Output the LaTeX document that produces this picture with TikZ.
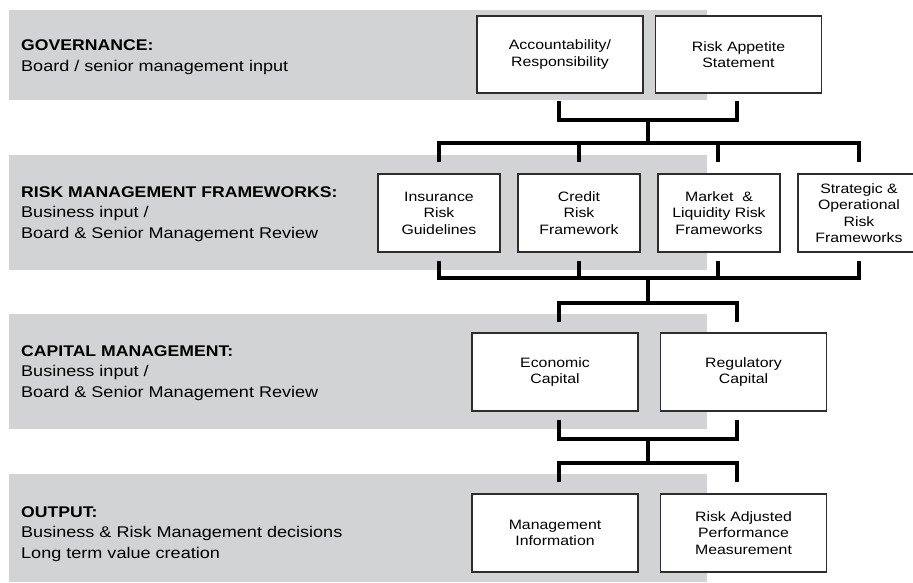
\documentclass[tikz,border=0pt]{standalone}
\usepackage{fontspec}
\setmainfont[FakeStretch=1.165, BoldFeatures={FakeStretch=1.137}]{Liberation Sans}
\usetikzlibrary{calc}
\definecolor{bandgray}{RGB}{209,211,212}
\definecolor{boxline}{RGB}{45,45,45}
\begin{document}
\begin{tikzpicture}[x=1pt,y=-1pt,
  band/.style={fill=bandgray, draw=none},
  box/.style={draw=boxline, line width=1.2pt, fill=white, align=center,
    font=\fontsize{13.6}{16.5}\selectfont, inner sep=0pt},
  widebox/.style={box, minimum width=166pt, minimum height=77pt},
  narrowbox/.style={box, minimum width=122pt, minimum height=78pt},
  link/.style={line width=3.5pt, line join=miter, line cap=butt},
  sectiontext/.style={anchor=west, align=left, inner sep=0pt,
    font=\fontsize{15.5}{20.7}\selectfont}]

\clip (0,0) rectangle (913,582);

% grey section bands
\fill[band] (9,10) rectangle (707,100);
\fill[band] (9,155) rectangle (707,270);
\fill[band] (9,314) rectangle (707,429);
\fill[band] (9,474) rectangle (707,582);

% section captions
\node[sectiontext] (govtxt) at (21,57)
  {\textbf{GOVERNANCE:}\\Board / senior management input};
\node[sectiontext] (rmftxt) at (21,214)
  {\textbf{RISK MANAGEMENT FRAMEWORKS:}\\Business input /\\Board \& Senior Management Review};
\node[sectiontext] (captxt) at (21,373)
  {\textbf{CAPITAL MANAGEMENT:}\\Business input /\\Board \& Senior Management Review};
\node[sectiontext] (outtxt) at (21,534)
  {\textbf{OUTPUT:}\\Business \& Risk Management decisions\\Long term value creation};

% governance boxes
\node[widebox] (acc) at (560,54.5) {Accountability/\\Responsibility};
\node[widebox] (ras) at (738.5,54.5) {Risk Appetite\\Statement};

% framework boxes
\node[narrowbox] (ins) at (439,213) {Insurance\\Risk\\Guidelines};
\node[narrowbox] (cre) at (579,213) {Credit\\Risk\\Framework};
\node[narrowbox] (mkt) at (719,213) {Market\ \ \&\\Liquidity Risk\\Frameworks};
\node[narrowbox] (str) at (859,213) {Strategic \&\\Operational\\Risk\\Frameworks};

% capital boxes
\node[widebox, minimum height=78pt] (eco) at (555,372) {Economic\\Capital};
\node[widebox, minimum height=78pt] (reg) at (743.5,372) {Regulatory\\Capital};

% output boxes
\node[widebox, minimum height=78pt] (mgi) at (555,533) {Management\\Information};
\node[widebox, minimum height=78pt] (rap) at (743.5,533) {Risk Adjusted\\Performance\\Measurement};

% tap points just clear of the boxes
\coordinate (accB) at ($(acc.south)+(-1,7)$);
\coordinate (rasB) at ($(ras.south)+(-1.5,7)$);
\coordinate (insT) at ($(ins.north)+(0,-11)$);
\coordinate (creT) at ($(cre.north)+(0,-11)$);
\coordinate (mktT) at ($(mkt.north)+(-1,-11)$);
\coordinate (strT) at ($(str.north)+(0,-11)$);
\coordinate (insB) at ($(ins.south)+(0,8)$);
\coordinate (creB) at ($(cre.south)+(0,8)$);
\coordinate (mktB) at ($(mkt.south)+(-1,8)$);
\coordinate (strB) at ($(str.south)+(0,8)$);
\coordinate (ecoT) at ($(eco.north)+(4,-10)$);
\coordinate (regT) at ($(reg.north)+(-6.5,-10)$);
\coordinate (ecoB) at ($(eco.south)+(4,8)$);
\coordinate (regB) at ($(reg.south)+(-6.5,8)$);
\coordinate (mgiT) at ($(mgi.north)+(4,-11)$);
\coordinate (rapT) at ($(rap.north)+(-6.5,-11)$);

% junctions on the spine
\coordinate (j1) at (648,120);
\coordinate (j1b) at (648,143);
\coordinate (j2) at (648,278);
\coordinate (j2b) at (648,303);
\coordinate (j3) at (648,439);
\coordinate (j3b) at (648,463);

% governance -> frameworks
\draw[link] (accB) |- (j1) -| (rasB);
\draw[link] (j1) -- (j1b);
\draw[link] (insT) |- (j1b) -| (strT);
\draw[link] (creT |- j1b) -- (creT);
\draw[link] (mktT |- j1b) -- (mktT);

% frameworks -> capital
\draw[link] (insB) |- (j2) -| (strB);
\draw[link] (creB) -- (creB |- j2);
\draw[link] (mktB) -- (mktB |- j2);
\draw[link] (j2) -- (j2b);
\draw[link] (ecoT) |- (j2b) -| (regT);

% capital -> output
\draw[link] (ecoB) |- (j3) -| (regB);
\draw[link] (j3) -- (j3b);
\draw[link] (mgiT) |- (j3b) -| (rapT);

\end{tikzpicture}
\end{document}
